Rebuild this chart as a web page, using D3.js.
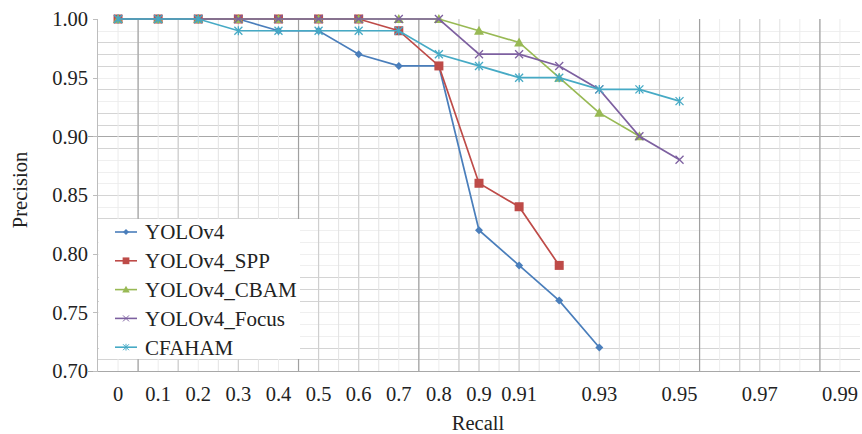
<!DOCTYPE html>
<meta charset="utf-8">
<style>
body { margin: 0; background: #fff; }
svg text { font-family: "Liberation Serif", "Tinos", "DejaVu Serif", "Times New Roman", serif; }
.tick-label { font-size: 20.5px; fill: #222; }
.axis-title { font-size: 20.5px; fill: #222; }
.legend text { font-size: 21px; fill: #222; }
.series { fill: none; stroke-width: 1.7px; }
</style>
<body>
<div id="chart"></div>
<script src="https://cdn.jsdelivr.net/npm/d3@7"></script>
<script>
// x categories (equally spaced, Excel style)
var recall = ["0","0.1","0.2","0.3","0.4","0.5","0.6","0.7","0.8","0.9",
              "0.91","0.92","0.93","0.94","0.95","0.96","0.97","0.98","0.99"];
var xTickLabels = ["0","0.1","0.2","0.3","0.4","0.5","0.6","0.7","0.8","0.9","0.91","0.93","0.95","0.97","0.99"];
var yTicks = [0.70, 0.75, 0.80, 0.85, 0.90, 0.95, 1.00];

var yolov4      = [1.00,1.00,1.00,1.00,0.99,0.99,0.97,0.96,0.96,0.82,0.79,0.76,0.72];
var yolov4Spp   = [1.00,1.00,1.00,1.00,1.00,1.00,1.00,0.99,0.96,0.86,0.84,0.79];
var yolov4Cbam  = [1.00,1.00,1.00,1.00,1.00,1.00,1.00,1.00,1.00,0.99,0.98,0.95,0.92,0.90];
var yolov4Focus = [1.00,1.00,1.00,1.00,1.00,1.00,1.00,1.00,1.00,0.97,0.97,0.96,0.94,0.90,0.88];
var cfaham      = [1.00,1.00,1.00,0.99,0.99,0.99,0.99,0.99,0.97,0.96,0.95,0.95,0.94,0.94,0.93];

var series = [
  {name: "YOLOv4",       values: yolov4,      color: "#4a7ebb", marker: "diamond"},
  {name: "YOLOv4_SPP",   values: yolov4Spp,   color: "#be4b48", marker: "square"},
  {name: "YOLOv4_CBAM",  values: yolov4Cbam,  color: "#98b954", marker: "triangle"},
  {name: "YOLOv4_Focus", values: yolov4Focus, color: "#7d60a0", marker: "cross"},
  {name: "CFAHAM",       values: cfaham,      color: "#46aac5", marker: "star"}
];

// scanned-looking grid emphasis
var midGridY = [0.98,0.97,0.96,0.94,0.92,0.91,0.89,0.85,0.83,0.78,0.77,0.76,0.72,0.71];
var darkGridY = [0.90];
var midGridCenters = ["0.3","0.5","0.6","0.9","0.91","0.93","0.97"];
var midGridBounds = ["0.2","0.9","0.95","0.97"];
var darkGridBounds = ["0.1","0.5","0.8","0.96","0.99"];

var W = 862, H = 434;
var pLeft = 98, pRight = 860, pTop = 19, pBottom = 371;
var serifFont = "'Liberation Serif', Tinos, 'DejaVu Serif', 'Times New Roman', serif";

var svg = d3.select("#chart").append("svg")
  .attr("width", W).attr("height", H)
  .attr("font-family", serifFont);

var x = d3.scaleBand().domain(recall).range([pLeft, pRight]);
var bw = x.bandwidth();
var cx = function(c) { return x(c) + bw / 2; };
var y = d3.scaleLinear().domain([0.70, 1.00]).range([pBottom, pTop]);
var yr = function(d) { return Math.round(y(d)) + 0.5; };

var grid = svg.append("g").attr("class", "grid");

// horizontal grid
grid.selectAll(".hminor").data(d3.range(71, 100).map(function(d) { return d / 100; }))
  .enter().append("line")
  .attr("x1", pLeft).attr("x2", pRight)
  .attr("y1", yr).attr("y2", yr)
  .attr("stroke", "#efefef");
grid.selectAll(".hmid").data(midGridY).enter().append("line")
  .attr("x1", pLeft).attr("x2", pRight)
  .attr("y1", yr).attr("y2", yr)
  .attr("stroke", "#d4d4d4").attr("stroke-width", 1.2);
grid.selectAll(".hdark").data(darkGridY).enter().append("line")
  .attr("x1", pLeft - 10).attr("x2", pRight)
  .attr("y1", yr).attr("y2", yr)
  .attr("stroke", "#a8a8a8").attr("stroke-width", 1.2);

// vertical grid
grid.selectAll(".vminorc").data(recall).enter().append("line")
  .attr("x1", cx).attr("x2", cx).attr("y1", pTop).attr("y2", pBottom)
  .attr("stroke", "#ececec");
grid.selectAll(".vminorb").data(recall.slice(1)).enter().append("line")
  .attr("x1", x).attr("x2", x).attr("y1", pTop).attr("y2", pBottom)
  .attr("stroke", "#e2e2e2");
grid.selectAll(".vmidc").data(midGridCenters).enter().append("line")
  .attr("x1", cx).attr("x2", cx).attr("y1", pTop).attr("y2", pBottom)
  .attr("stroke", "#cfcfcf").attr("stroke-width", 1.2);
grid.selectAll(".vmidb").data(midGridBounds).enter().append("line")
  .attr("x1", x).attr("x2", x).attr("y1", pTop).attr("y2", pBottom)
  .attr("stroke", "#cfcfcf").attr("stroke-width", 1.2);
grid.selectAll(".vdark").data(darkGridBounds).enter().append("line")
  .attr("x1", x).attr("x2", x).attr("y1", pTop).attr("y2", pBottom)
  .attr("stroke", "#a0a0a0").attr("stroke-width", 1.2);

// axes
svg.append("line").attr("x1", pLeft - 0.5).attr("x2", pLeft - 0.5)
  .attr("y1", pTop).attr("y2", pBottom).attr("stroke", "#bdbdbd");
svg.append("line").attr("x1", pLeft - 10).attr("x2", pRight)
  .attr("y1", pBottom + 0.5).attr("y2", pBottom + 0.5).attr("stroke", "#a8a8a8").attr("stroke-width", 1.2);

svg.selectAll(".ytick").data(yTicks).enter().append("line")
  .attr("x1", pLeft - 5).attr("x2", pLeft)
  .attr("y1", yr).attr("y2", yr)
  .attr("stroke", "#bdbdbd");

svg.selectAll(".ylab").data(yTicks).enter().append("text")
  .attr("class", "tick-label")
  .attr("x", 88).attr("y", function(d) { return y(d); })
  .attr("dy", "0.35em").attr("text-anchor", "end")
  .text(d3.format(".2f"));

svg.selectAll(".xlab").data(xTickLabels).enter().append("text")
  .attr("class", "tick-label")
  .attr("x", cx).attr("y", 394).attr("dy", "0.35em")
  .attr("text-anchor", "middle")
  .text(function(d) { return d; });

svg.append("text").attr("class", "axis-title")
  .attr("x", 478).attr("y", 423).attr("dy", "0.35em")
  .attr("text-anchor", "middle").text("Recall");
svg.append("text").attr("class", "axis-title")
  .attr("transform", "translate(20,190) rotate(-90)")
  .attr("dy", "0.35em").attr("text-anchor", "middle").text("Precision");

// markers
function drawMarker(g, type, color) {
  if (type === "diamond") {
    g.append("path").attr("d", "M0,-4L4,0L0,4L-4,0Z").attr("fill", color);
  } else if (type === "square") {
    g.append("rect").attr("x", -4.5).attr("y", -4.5).attr("width", 9).attr("height", 9).attr("fill", color);
  } else if (type === "triangle") {
    g.append("path").attr("d", "M0,-5L5,4L-5,4Z").attr("fill", color);
  } else if (type === "cross") {
    g.append("path").attr("d", "M-4,-4L4,4M-4,4L4,-4").attr("stroke", color).attr("stroke-width", 1.3);
  } else {
    g.append("path").attr("d", "M-4,-4L4,4M-4,4L4,-4M0,-4.5L0,4.5").attr("stroke", color).attr("stroke-width", 1.3);
  }
}

var line = d3.line()
  .x(function(d, i) { return cx(recall[i]); })
  .y(function(d) { return y(d); });

series.forEach(function(s) {
  var g = svg.append("g");
  g.append("path").attr("class", "series")
    .attr("d", line(s.values)).attr("stroke", s.color);
  s.values.forEach(function(v, i) {
    var m = g.append("g").attr("transform", "translate(" + cx(recall[i]) + "," + y(v) + ")");
    drawMarker(m, s.marker, s.color);
  });
});

// legend
var legend = svg.append("g").attr("class", "legend");
legend.append("rect").attr("x", 99).attr("y", 219).attr("width", 201).attr("height", 140)
  .attr("fill", "#fff");
series.forEach(function(s, i) {
  var yy = 232 + i * 28.8;
  var g = legend.append("g");
  g.append("line").attr("x1", 115).attr("x2", 137).attr("y1", yy).attr("y2", yy)
    .attr("stroke", s.color).attr("stroke-width", 1.6);
  var m = g.append("g").attr("transform", "translate(126," + yy + ") scale(0.75)");
  drawMarker(m, s.marker, s.color);
  g.append("text").attr("x", 145).attr("y", yy).attr("dy", "0.35em").text(s.name);
});
</script>
</body>
